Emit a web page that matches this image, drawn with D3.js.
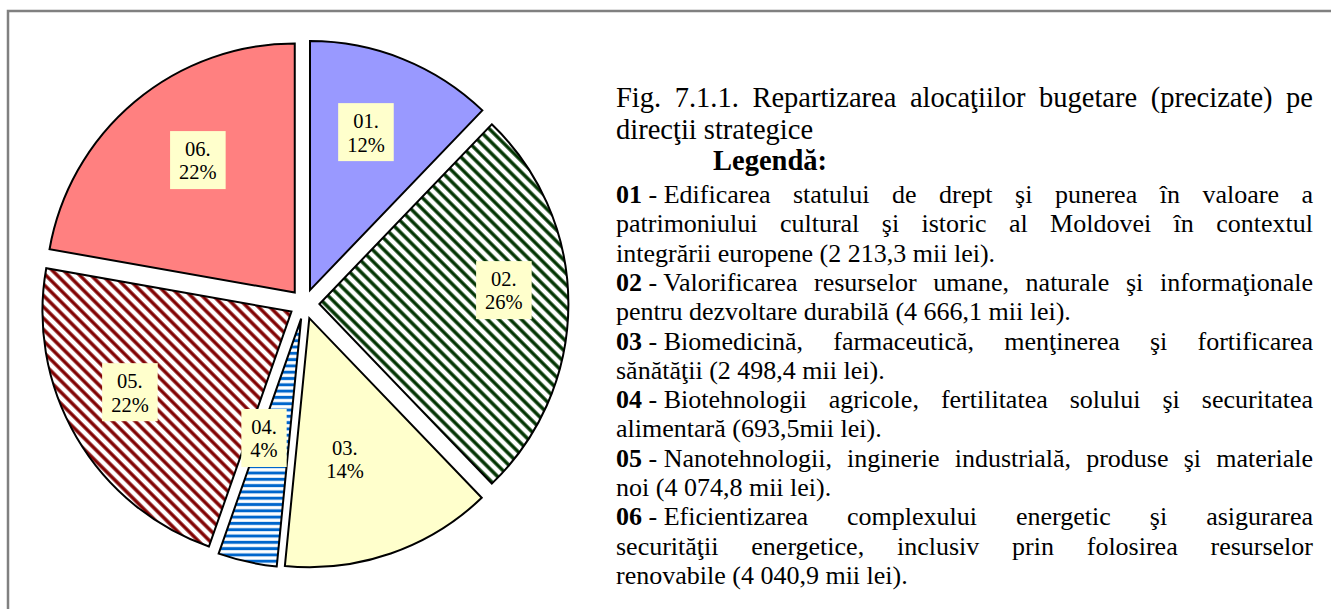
<!DOCTYPE html>
<html><head><meta charset="utf-8">
<script src="https://cdn.jsdelivr.net/npm/d3@7"></script>
<style>html,body{margin:0;padding:0;background:#fff;} svg{display:block;} text{white-space:pre;}</style>
</head><body>
<script>
// ---- data ----
const codes = ["01", "02", "03", "04", "05", "06"];
const values = [2213.3, 4666.1, 2498.4, 693.5, 4074.8, 4040.9];
const titleLines = ["Fig. 7.1.1. Repartizarea alocaţiilor bugetare (precizate) pe", "direcţii strategice"];
const legendHeading = "Legendă:";
const legendTexts = [
  ["Edificarea statului de drept şi punerea în valoare a", "patrimoniului cultural şi istoric al Moldovei în contextul", "integrării europene (2 213,3 mii lei)."],
  ["Valorificarea resurselor umane, naturale şi informaţionale", "pentru dezvoltare durabilă (4 666,1 mii lei)."],
  ["Biomedicină, farmaceutică, menţinerea şi fortificarea", "sănătăţii (2 498,4 mii lei)."],
  ["Biotehnologii agricole, fertilitatea solului şi securitatea", "alimentară (693,5mii lei)."],
  ["Nanotehnologii, inginerie industrială, produse şi materiale", "noi (4 074,8 mii lei)."],
  ["Eficientizarea complexului energetic şi asigurarea", "securităţii energetice, inclusiv prin folosirea resurselor", "renovabile (4 040,9 mii lei)."]
];

// ---- style / layout ----
const W = 1331, H = 609;
const FONT = "'Liberation Serif','Tinos','Times New Roman',serif";
const sliceFills = ["#9999FF", "url(#p02)", "#FFFFCC", "url(#p04)", "url(#p05)", "#FF8080"];
const labelLayout = [{f:0.673,da:-2.4},{f:0.743,da:-4.3},{f:0.583,da:4.9},{f:0.502,da:4.8},{f:0.725,da:3.8},{f:0.659,da:3.8}];
const cx = 304.4, cy = 304, R = 249, explode = 15;

const svg = d3.select("body").append("svg").attr("width", W).attr("height", H);

// frame
svg.append("path").attr("d", `M8,${H} V11 H${W}`).attr("fill", "none").attr("stroke", "#808080").attr("stroke-width", 2.5);

// patterns
const defs = svg.append("defs");
function stripes(id, color, period, thick, angle) {
  const p = defs.append("pattern").attr("id", id).attr("patternUnits", "userSpaceOnUse")
    .attr("width", period).attr("height", period).attr("patternTransform", `rotate(${angle})`);
  p.append("rect").attr("width", period).attr("height", period).attr("fill", "#fff");
  p.append("rect").attr("y", (period - thick) / 2).attr("width", period).attr("height", thick).attr("fill", color);
}
stripes("p02", "#003300", 8, 3.4, 45);
stripes("p05", "#800000", 8, 3.4, 45);
stripes("p04", "#0066CC", 6.3, 3, 0);

// pie
const data = codes.map((c, i) => ({code: c, value: values[i]}));
const total = d3.sum(values);
const pie = d3.pie().sort(null).value(d => d.value);
const arcGen = d3.arc().innerRadius(0).outerRadius(R);
const arcs = pie(data);
const gPie = svg.append("g").attr("transform", `translate(${cx},${cy})`);
arcs.forEach((a, i) => {
  const mid = (a.startAngle + a.endAngle) / 2;
  a.ox = explode * Math.sin(mid);
  a.oy = -explode * Math.cos(mid);
  const lay = labelLayout[i];
  const la = mid + lay.da * Math.PI / 180;
  a.lx = a.ox + lay.f * R * Math.sin(la);
  a.ly = a.oy - lay.f * R * Math.cos(la);
});
gPie.selectAll("path.slice").data(arcs).join("path").attr("class", "slice")
  .attr("transform", d => `translate(${d.ox},${d.oy})`)
  .attr("d", arcGen).attr("fill", (d, i) => sliceFills[i])
  .attr("stroke", "#000").attr("stroke-width", 2).attr("stroke-linejoin", "miter");

// labels
const lblSize = 20.5;
const lg = gPie.selectAll("g.lbl").data(arcs).join("g").attr("class", "lbl")
  .attr("transform", d => `translate(${d.lx},${d.ly})`);
lg.each(function(d) {
  const g = d3.select(this);
  const rect = g.append("rect").attr("fill", "#FFFFCC");
  const t1 = g.append("text").attr("text-anchor", "middle").attr("y", -4)
    .style("font-family", FONT).style("font-size", lblSize + "px").text(d.data.code + ".");
  const t2 = g.append("text").attr("text-anchor", "middle").attr("y", 19.4)
    .style("font-family", FONT).style("font-size", lblSize + "px")
    .text(Math.round(d.data.value / total * 100) + "%");
  const w = Math.max(t1.node().getComputedTextLength(), t2.node().getComputedTextLength()) + 18;
  rect.attr("x", -w / 2).attr("y", -29).attr("width", w).attr("height", 58);
});

// ---- text block ----
const TX = 616, TW = 697;
const gt = svg.append("g");
function measure(segs, size) {
  const t = gt.append("text").style("font-family", FONT).style("font-size", size + "px");
  segs.forEach(s => t.append("tspan").style("font-weight", s.bold ? "bold" : "normal").text(s.t));
  const w = t.node().getComputedTextLength();
  t.remove();
  return w;
}
function drawLine(tokens, y, size, justify, x0) {
  x0 = x0 === undefined ? TX : x0;
  const widths = tokens.map(tk => measure(tk, size));
  const sum = d3.sum(widths);
  const sp = size * 0.25;
  const gap = justify && tokens.length > 1 ? (TW - sum) / (tokens.length - 1) : sp;
  let x = x0;
  tokens.forEach((tk, i) => {
    const t = gt.append("text").attr("x", x).attr("y", y)
      .style("font-family", FONT).style("font-size", size + "px").attr("fill", "#000");
    tk.forEach(s => t.append("tspan").style("font-weight", s.bold ? "bold" : "normal").text(s.t));
    x += widths[i] + gap;
  });
}
const words = s => s.split(" ").map(w => [{t: w}]);

// title
const titleSize = 28.5, titlePitch = 31.6;
titleLines.forEach((ln, i) => drawLine(words(ln), 107 + i * titlePitch, titleSize, i < titleLines.length - 1));
// heading
drawLine([[{t: legendHeading, bold: true}]], 107 + 2 * titlePitch, titleSize, false, 713);
// legend paragraphs
const legSize = 26, pitch = 29.3;
let y = 203;
legendTexts.forEach((para, pi) => {
  para.forEach((ln, li) => {
    let toks = words(ln);
    if (li === 0) {
      const first = toks.shift();
      toks.unshift([{t: codes[pi], bold: true}, {t: " - " + first[0].t}]);
    }
    drawLine(toks, y, legSize, li < para.length - 1);
    y += pitch;
  });
});
</script>
</body></html>
